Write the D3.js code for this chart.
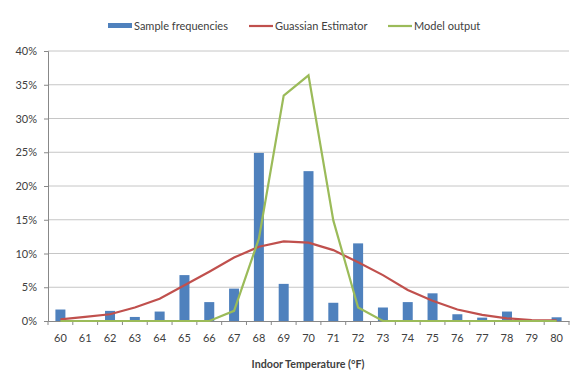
<!DOCTYPE html>
<html>
<head>
<meta charset="utf-8">
<script src="https://cdn.jsdelivr.net/npm/d3@7"></script>
<style>
  body { margin: 0; background: #fff; }
  text { font-family: Lato, "Open Sans", sans-serif; fill: #404040; }
</style>
</head>
<body>
<div id="chart"></div>
<script>
// temperatures (°F) and percentages
const temps = d3.range(60, 81);
const sampleFreq = [1.7, 0, 1.5, 0.6, 1.4, 6.8, 2.8, 4.8, 24.9, 5.5, 22.2, 2.7, 11.5, 2.0, 2.8, 4.1, 1.0, 0.5, 1.4, 0, 0.55];
const gaussian = [0.25, 0.6, 1.0, 2.0, 3.3, 5.3, 7.3, 9.4, 11.0, 11.8, 11.6, 10.5, 8.7, 6.8, 4.6, 3.0, 1.7, 0.9, 0.4, 0.15, 0.1];
const modelOut = [0, 0, 0, 0, 0, 0, 0, 1.5, 12.2, 33.4, 36.4, 14.9, 2.0, 0, 0, 0, 0, 0, 0, 0, 0];
const yTicks = [0, 5, 10, 15, 20, 25, 30, 35, 40];
const seriesNames = ['Sample frequencies', 'Guassian Estimator', 'Model output'];

const W = 586, H = 381;
const plotL = 48, plotR = 569, plotT = 51, plotB = 321;
const colors = ['#4f81bd', '#c0504d', '#9bbb59'];

const svg = d3.select('#chart').append('svg')
  .attr('width', W)
  .attr('height', H);

const x = d3.scaleBand()
  .domain(temps)
  .range([plotL, plotR]);

const y = d3.scaleLinear()
  .domain([0, 40])
  .range([plotB, plotT]);

// gridlines
svg.append('g')
  .selectAll('line')
  .data(yTicks.slice(1))
  .enter().append('line')
  .attr('x1', plotL)
  .attr('x2', plotR)
  .attr('y1', d => y(d))
  .attr('y2', d => y(d))
  .attr('stroke', '#c6c6c6')
  .attr('stroke-width', 1);

// y axis
const yAxis = svg.append('g')
  .attr('transform', `translate(${plotL},0)`)
  .call(d3.axisLeft(y).tickValues(yTicks).tickSize(4).tickFormat(d => d + '%'));
yAxis.select('.domain').attr('stroke', '#888');
yAxis.selectAll('.tick line').attr('stroke', '#888');
yAxis.selectAll('.tick text')
  .attr('x', -11)
  .style('font-size', '11px')
  .style('fill', '#404040');

// bars
const bw = 10;
svg.append('g')
  .selectAll('rect')
  .data(sampleFreq)
  .enter().append('rect')
  .attr('x', (d, i) => x(temps[i]) + x.bandwidth() / 2 - bw / 2)
  .attr('y', d => y(d))
  .attr('width', bw)
  .attr('height', d => plotB - y(d))
  .attr('fill', colors[0]);

// x axis
const xAxis = svg.append('g')
  .attr('transform', `translate(0,${plotB})`)
  .call(d3.axisBottom(x).tickSize(0).tickPadding(13));
xAxis.select('.domain').attr('stroke', '#888');
xAxis.selectAll('.tick text')
  .style('font-size', '11px')
  .style('fill', '#404040');
// tick marks between categories
xAxis.append('g')
  .selectAll('line')
  .data(d3.range(temps.length + 1))
  .enter().append('line')
  .attr('x1', i => plotL + i * x.step())
  .attr('x2', i => plotL + i * x.step())
  .attr('y1', 0)
  .attr('y2', 4)
  .attr('stroke', '#888');

// lines
const line = d3.line()
  .x((d, i) => x(temps[i]) + x.bandwidth() / 2)
  .y(d => y(d));

svg.append('path')
  .datum(gaussian)
  .attr('d', line)
  .attr('fill', 'none')
  .attr('stroke', colors[1])
  .attr('stroke-width', 2.2);

svg.append('path')
  .datum(modelOut)
  .attr('d', line)
  .attr('fill', 'none')
  .attr('stroke', colors[2])
  .attr('stroke-width', 2.2);

// x axis title
svg.append('text')
  .attr('x', 308)
  .attr('y', 368)
  .attr('text-anchor', 'middle')
  .style('font-size', '10.7px')
  .style('font-weight', 'bold')
  .text('Indoor Temperature (°F)');

// legend
const legendX = [108, 249, 388];
const legend = svg.append('g');
seriesNames.forEach((name, i) => {
  const g = legend.append('g').attr('transform', `translate(${legendX[i]},26)`);
  if (i === 0) {
    g.append('rect').attr('x', 0).attr('y', -3).attr('width', 24).attr('height', 5).attr('fill', colors[0]);
  } else {
    g.append('line').attr('x1', 0).attr('x2', 24).attr('y1', 0).attr('y2', 0)
      .attr('stroke', colors[i]).attr('stroke-width', 2.2);
  }
  g.append('text')
    .attr('x', 26)
    .attr('y', 0)
    .attr('dy', '0.35em')
    .style('font-size', '11px')
    .text(name);
});
</script>
</body>
</html>
